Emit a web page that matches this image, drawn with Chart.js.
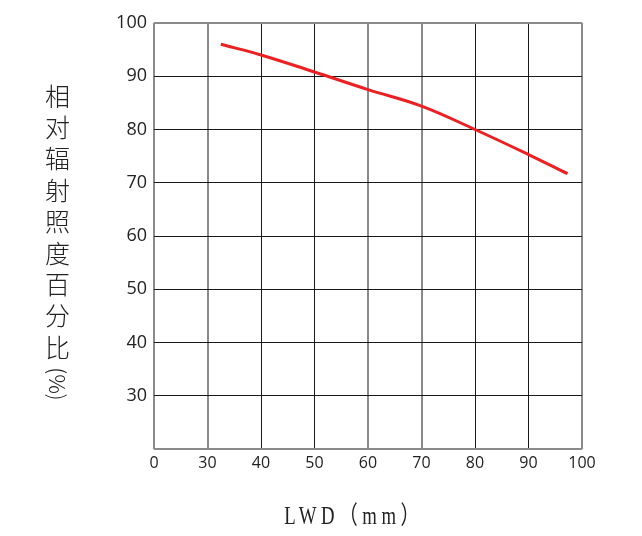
<!DOCTYPE html>
<html>
<head>
<meta charset="utf-8">
<script src="https://cdn.jsdelivr.net/npm/chart.js@4/dist/chart.umd.min.js"></script>
<style>
  html, body { margin: 0; padding: 0; background: #fff; }
  #wrap { width: 642px; height: 536px; position: relative; }
</style>
</head>
<body>
<div id="wrap"><canvas id="chart"></canvas></div>
<script>
// LWD (mm) and relative irradiance (%)
const lwd = [32.5, 40, 50, 60, 70, 80, 90, 97.3];
const irradiance = [96.0, 94.0, 90.8, 87.5, 84.4, 80.0, 75.3, 71.7];

// axis text
const xTitle = "LWD（mm）";
const yTitleChars = ["相", "对", "辐", "射", "照", "度", "百", "分", "比"];
const yTitleUnit = "(%)";

// vertical lines that look grey/soft in the picture vs crisp black ones
const softX = [20, 30, 60, 70, 100];

// axis titles: stacked CJK on the left, narrow spaced serif below
const axisTitles = {
  id: "axisTitles",
  afterDraw(chart) {
    const ctx = chart.ctx;
    ctx.save();
    ctx.fillStyle = "#222";
    ctx.textAlign = "center";
    ctx.textBaseline = "middle";
    ctx.font = "300 25px 'Noto Sans CJK SC'";
    const x = 57.5;
    yTitleChars.forEach((ch, i) => {
      ctx.fillText(ch, x, 96 + i * 31.4);
    });
    ctx.save();
    ctx.translate(x, 384);
    ctx.rotate(Math.PI / 2);
    ctx.font = "300 22px 'Noto Sans CJK SC'";
    ctx.fillText(yTitleUnit, 0, 0);
    ctx.restore();

    // x title, condensed look like the original
    ctx.translate(354, 517);
    ctx.scale(0.75, 1);
    ctx.font = "25px 'Liberation Serif', 'Noto Sans CJK SC'";
    ctx.letterSpacing = "6px";
    ctx.fillText(xTitle, 0, 0);
    ctx.restore();
  },
};

const ctx = document.getElementById("chart").getContext("2d");
new Chart(ctx, {
  type: "line",
  data: {
    datasets: [
      {
        data: lwd.map((v, i) => ({ x: v, y: irradiance[i] })),
        borderColor: "#ec1f22",
        borderWidth: 3,
        pointRadius: 0,
        fill: false,
        tension: 0.4,
      },
    ],
  },
  options: {
    responsive: true,
    maintainAspectRatio: false,
    animation: false,
    layout: { padding: { left: 0, right: 60, top: 23, bottom: 0 } },
    plugins: {
      legend: { display: false },
      tooltip: { enabled: false },
    },
    scales: {
      x: {
        type: "linear",
        min: 20,
        max: 100,
        ticks: {
          stepSize: 10,
          color: "#222",
          padding: 5,
          font: { family: "'Open Sans'", size: 16 },
          callback: (v) => (v === 20 ? "0" : v),
        },
        grid: {
          drawTicks: false,
          color: (c) => (softX.includes(c.tick && c.tick.value) ? "#8a8a8a" : "#1a1a1a"),
          lineWidth: (c) => (softX.includes(c.tick && c.tick.value) ? 2 : 1),
        },
        border: { display: false },
        afterFit: (scale) => {
          scale.height = 87;
        },
      },
      y: {
        min: 20,
        max: 100,
        ticks: {
          stepSize: 10,
          color: "#222",
          padding: 7,
          font: { family: "'Open Sans'", size: 18 },
          callback: (v) => (v === 20 ? "" : v),
        },
        grid: {
          drawTicks: false,
          color: (c) => (c.tick && (c.tick.value === 100 || c.tick.value === 20) ? "#8a8a8a" : "#1a1a1a"),
          lineWidth: (c) => (c.tick && (c.tick.value === 100 || c.tick.value === 20) ? 2 : 1),
        },
        border: { display: false },
        afterFit: (scale) => {
          scale.width = 154;
        },
      },
    },
  },
  plugins: [axisTitles],
});
</script>
</body>
</html>
